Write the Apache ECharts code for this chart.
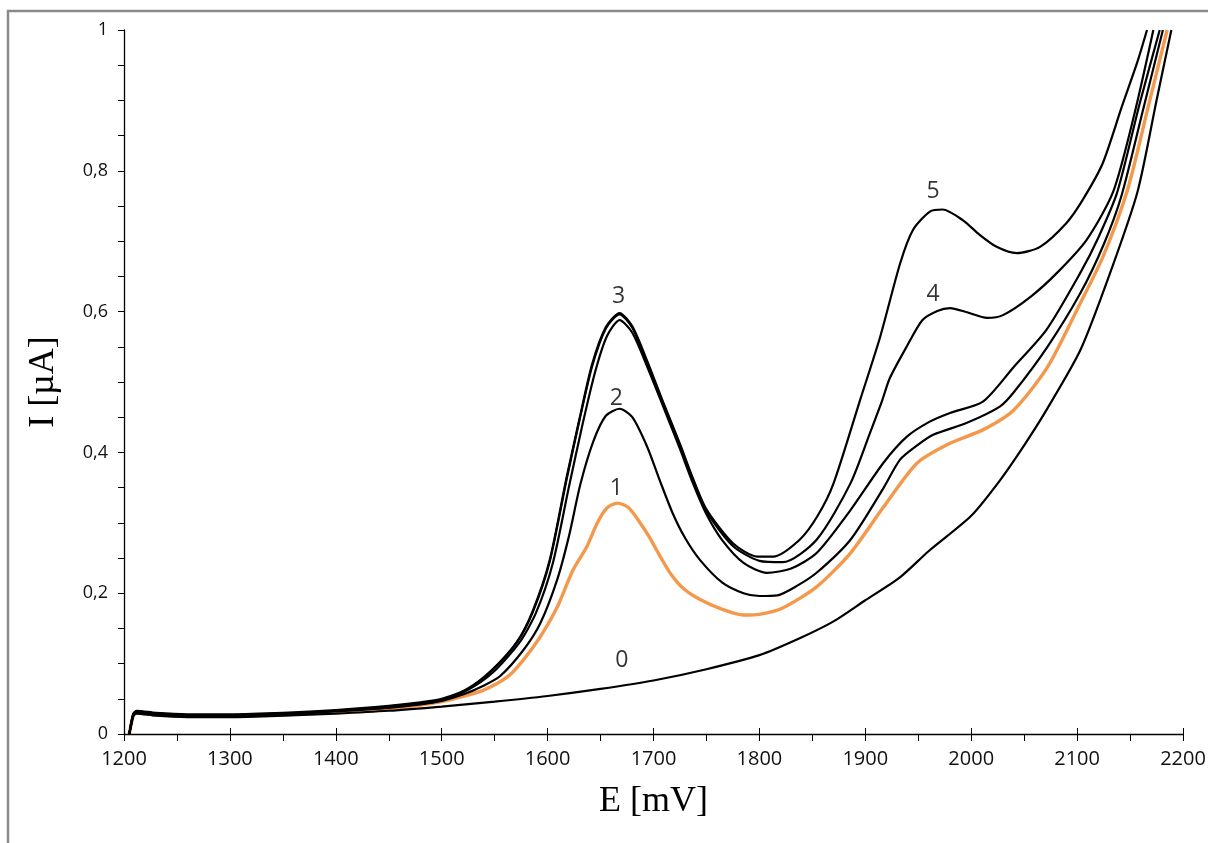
<!DOCTYPE html>
<html>
<head>
<meta charset="utf-8">
<title>I–E</title>
<script src="https://cdn.jsdelivr.net/npm/echarts@6/dist/echarts.min.js"></script>
<style>
  html, body { margin: 0; padding: 0; background: #fff; }
  #chart { width: 1208px; height: 843px; }
</style>
</head>
<body>
<div id="chart"></div>
<script>
// Voltammetric curves: potential E [mV] vs current I [µA]; each entry is [E, I].
const curve0 = [[1205,0],[1207,0.014],[1209,0.026],[1212,0.029],[1230,0.026],[1260,0.024],[1300,0.024],[1350,0.026],[1400,0.029],[1450,0.033],[1500,0.039],[1550,0.046],[1600,0.054],[1650,0.064],[1700,0.076],[1750,0.092],[1800,0.112],[1838,0.136],[1870,0.16],[1900,0.19],[1933,0.223],[1960,0.26],[2000,0.31],[2027,0.36],[2050,0.41],[2071,0.46],[2103,0.545],[2130,0.65],[2157,0.77],[2175,0.9],[2189,1.0]];

const curve1 = [[1205,0],[1207,0.015],[1209,0.027],[1212,0.03],[1230,0.027],[1260,0.025],[1300,0.025],[1350,0.027],[1400,0.031],[1450,0.036],[1480,0.041],[1500,0.046],[1514,0.051],[1539,0.062],[1562,0.081],[1577,0.105],[1593,0.138],[1609,0.18],[1624,0.233],[1637,0.266],[1647,0.3],[1656,0.321],[1666,0.328],[1676,0.322],[1686,0.303],[1696,0.28],[1706,0.253],[1716,0.228],[1728,0.207],[1744,0.191],[1765,0.177],[1785,0.169],[1800,0.17],[1822,0.179],[1854,0.209],[1886,0.257],[1917,0.322],[1949,0.385],[1980,0.413],[2011,0.432],[2040,0.46],[2072,0.521],[2103,0.612],[2125,0.68],[2148,0.775],[2167,0.89],[2185,1.0]];

const curve2 = [[1205,0],[1207,0.016],[1209,0.028],[1212,0.031],[1230,0.028],[1260,0.026],[1300,0.026],[1350,0.028],[1400,0.032],[1450,0.037],[1480,0.042],[1500,0.047],[1520,0.056],[1540,0.069],[1555,0.082],[1577,0.119],[1593,0.157],[1609,0.219],[1620,0.28],[1631,0.355],[1643,0.415],[1655,0.452],[1668,0.462],[1680,0.45],[1694,0.408],[1706,0.36],[1718,0.314],[1730,0.278],[1744,0.247],[1765,0.215],[1785,0.2],[1800,0.196],[1817,0.197],[1835,0.21],[1854,0.229],[1886,0.276],[1917,0.349],[1933,0.39],[1949,0.41],[1964,0.425],[1996,0.442],[2027,0.465],[2040,0.485],[2072,0.55],[2103,0.626],[2125,0.695],[2142,0.765],[2162,0.885],[2181,1.0]];

const curve3 = [[1205,0],[1207,0.016],[1209,0.028],[1212,0.032],[1230,0.029],[1260,0.027],[1300,0.027],[1350,0.029],[1400,0.033],[1450,0.038],[1480,0.043],[1500,0.048],[1524,0.062],[1548,0.087],[1573,0.129],[1589,0.172],[1605,0.243],[1620,0.35],[1633,0.44],[1645,0.515],[1656,0.565],[1668,0.588],[1680,0.57],[1694,0.522],[1710,0.462],[1725,0.405],[1737,0.357],[1750,0.312],[1765,0.275],[1785,0.243],[1807,0.229],[1830,0.235],[1854,0.257],[1886,0.318],[1917,0.385],[1939,0.422],[1960,0.443],[1980,0.456],[2011,0.472],[2040,0.521],[2071,0.574],[2103,0.655],[2120,0.705],[2138,0.77],[2159,0.895],[2178,1.0]];

const curve4 = [[1205,0],[1207,0.017],[1209,0.029],[1212,0.032],[1230,0.029],[1260,0.027],[1300,0.027],[1350,0.029],[1400,0.033],[1450,0.039],[1480,0.044],[1500,0.049],[1524,0.063],[1546,0.088],[1571,0.13],[1586,0.173],[1602,0.245],[1618,0.362],[1630,0.445],[1642,0.522],[1655,0.576],[1668,0.596],[1680,0.577],[1694,0.527],[1710,0.466],[1725,0.41],[1737,0.362],[1750,0.316],[1775,0.267],[1800,0.246],[1822,0.244],[1854,0.276],[1886,0.356],[1905,0.43],[1916,0.474],[1923,0.505],[1939,0.55],[1954,0.588],[1968,0.601],[1980,0.605],[1996,0.599],[2015,0.591],[2030,0.595],[2056,0.621],[2081,0.655],[2109,0.702],[2134,0.77],[2154,0.88],[2172,1.0]];

const curve5 = [[1205,0],[1207,0.017],[1209,0.029],[1212,0.033],[1230,0.03],[1260,0.028],[1300,0.028],[1350,0.03],[1400,0.034],[1450,0.04],[1480,0.045],[1500,0.05],[1524,0.064],[1546,0.089],[1571,0.131],[1586,0.175],[1602,0.247],[1618,0.365],[1630,0.447],[1642,0.525],[1655,0.578],[1668,0.598],[1680,0.579],[1694,0.53],[1710,0.468],[1725,0.412],[1737,0.364],[1750,0.319],[1775,0.271],[1798,0.252],[1813,0.252],[1838,0.276],[1855,0.31],[1870,0.356],[1895,0.474],[1914,0.564],[1933,0.669],[1945,0.716],[1961,0.742],[1973,0.745],[1992,0.73],[2008,0.709],[2024,0.692],[2043,0.683],[2065,0.692],[2090,0.726],[2105,0.758],[2124,0.81],[2142,0.89],[2157,0.955],[2166,1.0]];

// Curve numbers written beside the peaks: [E, I, text]
const curveTags = [[1670,0.105,'0'],[1665,0.349,'1'],[1665,0.477,'2'],[1667,0.621,'3'],[1964,0.625,'4'],[1964,0.77,'5']];

// Axis tick labels
const xTickValues = [1200,1300,1400,1500,1600,1700,1800,1900,2000,2100,2200];
const xTickLabels = ['1200','1300','1400','1500','1600','1700','1800','1900','2000','2100','2200'];
const yTickValues = [0,0.2,0.4,0.6,0.8,1];
const yTickLabels = ['0','0,2','0,4','0,6','0,8','1'];

const BLACK = '#000000';
const ORANGE = '#f4984c';

function lookup(values, labels, v) {
  for (let i = 0; i < values.length; i++) {
    if (Math.abs(values[i] - v) < 1e-6) return labels[i];
  }
  return '';
}

function lineSeries(data, color, width, z) {
  return {
    type: 'line',
    data: data,
    xAxisIndex: 0,
    yAxisIndex: 0,
    showSymbol: false,
    symbol: 'none',
    smooth: 0.25,
    lineStyle: { color: color, width: width },
    z: z,
    silent: true,
    animation: false
  };
}

const chart = echarts.init(document.getElementById('chart'), null, { renderer: 'canvas' });

chart.setOption({
  backgroundColor: '#ffffff',
  animation: false,
  grid: { left: 124, right: 25, top: 30, bottom: 109, containLabel: false, outerBoundsMode: 'none' },
  xAxis: [
    {
      type: 'value',
      min: 1200, max: 2200, interval: 50,
      position: 'bottom',
      name: 'E [mV]',
      nameLocation: 'middle',
      nameGap: 50,
      nameTextStyle: { fontFamily: 'Liberation Serif', fontSize: 36, color: '#000' },
      axisLine: { show: true, onZero: false, lineStyle: { color: '#000', width: 1.3 } },
      axisTick: { show: true, inside: false, length: 7, lineStyle: { color: '#000', width: 1 } },
      axisLabel: {
        margin: 15,
        fontFamily: 'Open Sans', fontSize: 20, color: '#111',
        formatter: v => lookup(xTickValues, xTickLabels, v)
      },
      splitLine: { show: false }
    },
    {
      // upward half of the major ticks
      type: 'value',
      min: 1200, max: 2200, interval: 100,
      position: 'bottom',
      axisLine: { show: false, onZero: false },
      axisTick: { show: true, inside: true, length: 6, lineStyle: { color: '#000', width: 1 } },
      axisLabel: { show: false },
      splitLine: { show: false }
    }
  ],
  yAxis: {
    type: 'value',
    min: 0, max: 1, interval: 0.05,
    name: 'I [µA]',
    nameLocation: 'middle',
    nameRotate: 90,
    nameGap: 62,
    nameTextStyle: { fontFamily: 'Liberation Serif', fontSize: 36, color: '#000' },
    axisLine: { show: true, onZero: false, lineStyle: { color: '#000', width: 1.3 } },
    axisTick: { show: true, inside: false, length: 6, lineStyle: { color: '#000', width: 1 } },
    axisLabel: {
      margin: 16,
      fontFamily: 'Open Sans', fontSize: 18, color: '#111',
      formatter: v => lookup(yTickValues, yTickLabels, Math.round(v * 100) / 100)
    },
    splitLine: { show: false }
  },
  series: [
    lineSeries(curve0, BLACK, 2.2, 3),
    lineSeries(curve1, ORANGE, 3.4, 2),
    lineSeries(curve2, BLACK, 2.2, 3),
    lineSeries(curve3, BLACK, 2.2, 3),
    lineSeries(curve4, BLACK, 2.2, 3),
    lineSeries(curve5, BLACK, 2.2, 3),
    {
      type: 'scatter',
      xAxisIndex: 0,
      yAxisIndex: 0,
      symbolSize: 0,
      silent: true,
      data: curveTags.map(t => ({ value: [t[0], t[1]], name: t[2] })),
      label: {
        show: true,
        position: 'inside',
        formatter: p => p.name,
        fontFamily: 'Open Sans', fontSize: 23, color: '#000'
      },
      z: 5
    }
  ],
  graphic: [
    {
      type: 'polyline',
      shape: { points: [[8, 843], [8, 11], [1208, 11]] },
      style: { stroke: '#8a8a8a', lineWidth: 2.5, fill: null },
      silent: true
    }
  ]
});
</script>
</body>
</html>
